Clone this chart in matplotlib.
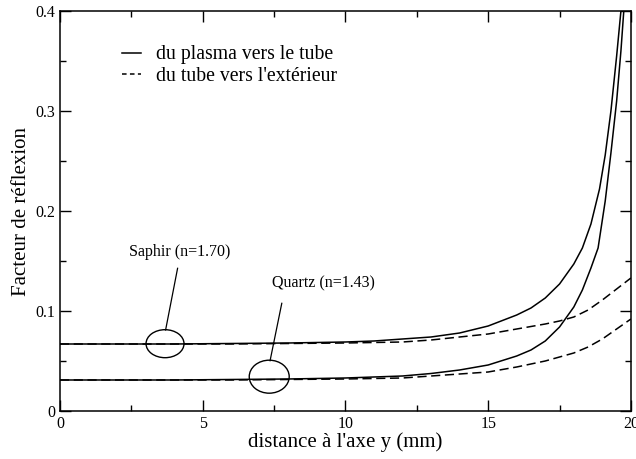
import numpy as np
import matplotlib.pyplot as plt
from matplotlib.patches import Ellipse
from matplotlib.lines import Line2D

plt.rcParams['font.family'] = ['Liberation Serif', 'DejaVu Serif']

# Valeurs (distance en mm, facteur de réflexion)
x_sol_saphir = [0, 2, 4, 6, 8, 10, 11, 12, 13, 14, 15, 16, 16.5, 17, 17.5, 18,
                18.3, 18.6, 18.9, 19.1, 19.3, 19.5, 19.65, 19.8]
r_sol_saphir = [0.067, 0.067, 0.067, 0.0675, 0.068, 0.069, 0.070, 0.072, 0.074,
                0.078, 0.085, 0.096, 0.103, 0.113, 0.127, 0.147, 0.163, 0.187,
                0.222, 0.256, 0.300, 0.355, 0.400, 0.480]

x_sol_quartz = [0, 2, 4, 6, 8, 10, 11, 12, 13, 14, 15, 16, 16.5, 17, 17.5, 18,
                18.3, 18.6, 18.85, 19.1, 19.3, 19.5, 19.65, 19.75, 19.85]
r_sol_quartz = [0.031, 0.031, 0.031, 0.0315, 0.032, 0.033, 0.034, 0.035, 0.0375,
                0.041, 0.046, 0.055, 0.061, 0.070, 0.084, 0.104, 0.121, 0.143,
                0.163, 0.210, 0.258, 0.310, 0.360, 0.400, 0.480]

x_pt_saphir = [0, 2, 4, 6, 8, 10, 11, 12, 13, 14, 15, 16, 17, 17.5, 18, 18.5, 19, 19.5, 20]
r_pt_saphir = [0.067, 0.067, 0.067, 0.067, 0.0675, 0.068, 0.0685, 0.069, 0.071,
               0.074, 0.077, 0.082, 0.087, 0.090, 0.094, 0.101, 0.111, 0.122, 0.133]

x_pt_quartz = [0, 2, 4, 6, 8, 10, 11, 12, 13, 14, 15, 16, 17, 17.5, 18, 18.5, 19, 19.5, 20]
r_pt_quartz = [0.031, 0.031, 0.031, 0.031, 0.0315, 0.032, 0.0325, 0.033, 0.035,
               0.037, 0.039, 0.044, 0.050, 0.054, 0.058, 0.064, 0.072, 0.082, 0.092]

fig = plt.figure(figsize=(6.36, 4.59), dpi=100)
ax = fig.add_axes([0.0943, 0.1046, 0.8977, 0.8714])

tirets = (0, (6, 3))
ax.plot(x_sol_saphir, r_sol_saphir, c='black', lw=1.1)
ax.plot(x_pt_saphir, r_pt_saphir, c='black', lw=1.1, ls=tirets)
ax.plot(x_sol_quartz, r_sol_quartz, c='black', lw=1.1)
ax.plot(x_pt_quartz, r_pt_quartz, c='black', lw=1.1, ls=tirets)

# Annotations : ellipses et traits
ax.add_patch(Ellipse((3.68, 0.0673), 1.33, 0.028, fill=False, lw=1.0, ec='black'))
ax.plot([4.12, 3.70], [0.1427, 0.081], c='black', lw=0.9)
ax.text(4.20, 0.159, 'Saphir (n=1.70)', ha='center', va='center', fontsize=11.5)

ax.add_patch(Ellipse((7.33, 0.0343), 1.40, 0.033, fill=False, lw=1.0, ec='black'))
ax.plot([7.77, 7.36], [0.1077, 0.0503], c='black', lw=0.9)
ax.text(9.22, 0.1277, 'Quartz (n=1.43)', ha='center', va='center', fontsize=11.5)

ax.set_xlim(0, 20)
ax.set_ylim(0, 0.4)
ax.set_xticks([0, 5, 10, 15, 20])
ax.set_xticks([2.5, 7.5, 12.5, 17.5], minor=True)
ax.set_yticks([0, 0.1, 0.2, 0.3, 0.4])
ax.set_yticklabels(['0', '0.1', '0.2', '0.3', '0.4'])
ax.set_yticks([0.05, 0.15, 0.25, 0.35], minor=True)
ax.tick_params(which='both', direction='in', top=True, right=True, labelsize=11.5, width=1.0)
ax.tick_params(which='major', length=8)
ax.tick_params(which='minor', length=4)
for s in ax.spines.values():
    s.set_linewidth(1.1)

ax.set_xlabel("distance à l'axe y (mm)", fontsize=15, labelpad=0)
ax.set_ylabel('Facteur de réflexion', fontsize=15, labelpad=3)

# Légende (tirets plus courts comme sur l'original)
poignees = [Line2D([], [], c='black', lw=1.1),
            Line2D([], [], c='black', lw=1.1, ls=(0, (3, 2.2)))]
ax.legend(poignees, ['du plasma vers le tube', "du tube vers l'extérieur"],
          loc='upper left', bbox_to_anchor=(0.108, 0.914), frameon=False,
          fontsize=14.2, handlelength=0.98, handletextpad=0.75, labelspacing=0.12,
          borderpad=0, borderaxespad=0)

fig.savefig('out.png', dpi=100)
